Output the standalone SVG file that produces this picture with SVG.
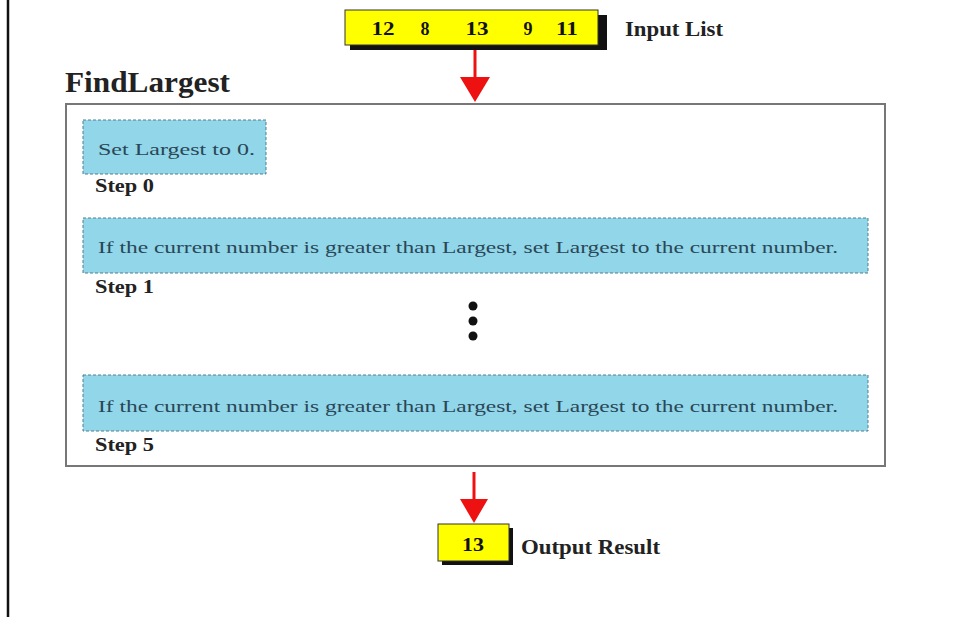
<svg xmlns="http://www.w3.org/2000/svg" width="954" height="617" viewBox="0 0 954 617">
<defs>
<style>
.yb{fill:#ffff00;stroke:#333;stroke-width:1}
.sh{fill:#111}
.num{font-family:"Liberation Serif",serif;font-weight:bold;font-size:18px;fill:#111;text-anchor:middle}
.lbl{font-family:"Liberation Serif",serif;font-weight:bold;font-size:20px;fill:#222}
.step{fill:#92d6ea;stroke:#4f7f8f;stroke-width:1;stroke-dasharray:3 2}
.st{font-family:"Liberation Serif",serif;font-size:17px;fill:#2a4755}
.sl{font-family:"Liberation Serif",serif;font-weight:bold;font-size:19px;fill:#222}
.arr{stroke:#ee1111;stroke-width:3;fill:none}
.ah{fill:#ee1111}
</style>
</defs>
<rect x="0" y="0" width="954" height="617" fill="#ffffff"/>
<line x1="8" y1="0" x2="8" y2="617" stroke="#111" stroke-width="2.5"/>

<g id="input-list">
<rect class="sh" x="350" y="15" width="257" height="35"/>
<rect class="yb" x="345" y="10" width="253" height="35"/>
<text class="num" x="383" y="35" textLength="23" lengthAdjust="spacingAndGlyphs">12</text>
<text class="num" x="425" y="35">8</text>
<text class="num" x="477" y="35" textLength="23" lengthAdjust="spacingAndGlyphs">13</text>
<text class="num" x="528" y="35">9</text>
<text class="num" x="567" y="35" textLength="22" lengthAdjust="spacingAndGlyphs">11</text>
<text class="lbl" x="625" y="36" textLength="98" lengthAdjust="spacingAndGlyphs">Input List</text>
</g>

<g id="find-largest">
<text x="65" y="92" font-family="Liberation Serif,serif" font-weight="bold" font-size="30" fill="#222" textLength="165" lengthAdjust="spacingAndGlyphs">FindLargest</text>
<rect x="66" y="104" width="819" height="362" fill="#ffffff" stroke="#777" stroke-width="2"/>
</g>

<g id="step0">
<rect class="step" x="83" y="120" width="183" height="54"/>
<text class="st" x="98" y="155" textLength="157" lengthAdjust="spacingAndGlyphs">Set Largest to 0.</text>
<text class="sl" x="95" y="192" textLength="59" lengthAdjust="spacingAndGlyphs">Step 0</text>
</g>

<g id="step1">
<rect class="step" x="83" y="218" width="785" height="55"/>
<text class="st" x="98" y="253" textLength="740" lengthAdjust="spacingAndGlyphs">If the current number is greater than Largest, set Largest to the current number.</text>
<text class="sl" x="95" y="293" textLength="59" lengthAdjust="spacingAndGlyphs">Step 1</text>
</g>

<g id="ellipsis">
<circle cx="473" cy="306" r="4.5" fill="#111"/>
<circle cx="473" cy="321" r="4.5" fill="#111"/>
<circle cx="473" cy="336" r="4.5" fill="#111"/>
</g>

<g id="step5">
<rect class="step" x="83" y="375" width="785" height="56"/>
<text class="st" x="98" y="412" textLength="740" lengthAdjust="spacingAndGlyphs">If the current number is greater than Largest, set Largest to the current number.</text>
<text class="sl" x="95" y="451" textLength="59" lengthAdjust="spacingAndGlyphs">Step 5</text>
</g>

<g id="output-result">
<rect class="sh" x="442" y="528" width="71" height="37"/>
<rect class="yb" x="438" y="524" width="71" height="37"/>
<text class="num" x="473" y="551" textLength="22" lengthAdjust="spacingAndGlyphs">13</text>
<text class="lbl" x="521" y="554" textLength="139" lengthAdjust="spacingAndGlyphs">Output Result</text>
</g>

<g id="connectors">
<line class="arr" x1="475" y1="50" x2="475" y2="80"/>
<polygon class="ah" points="460,77 490,77 475,102"/>
<line class="arr" x1="474" y1="472" x2="474" y2="502"/>
<polygon class="ah" points="460,499 488,499 474,523"/>
</g>
</svg>
